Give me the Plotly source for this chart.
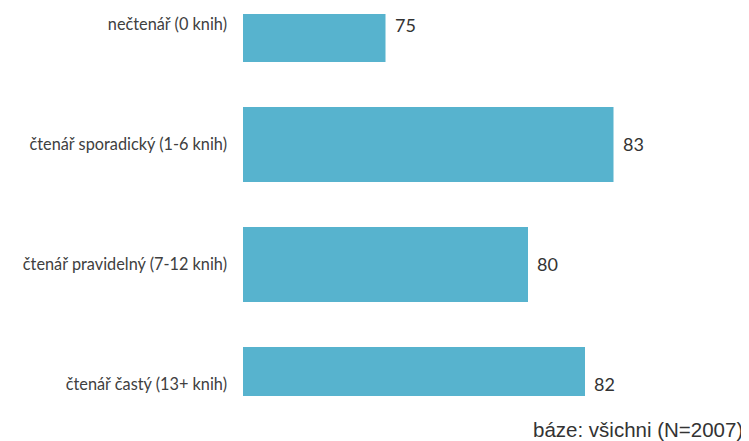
import plotly.graph_objects as go

categories = ["nečtenář (0 knih)", "čtenář sporadický (1-6 knih)",
              "čtenář pravidelný (7-12 knih)", "čtenář častý (13+ knih)"]
values = [75, 83, 80, 82]
footnote = "báze: všichni (N=2007)"

BAR_COLOR = "#57B3CE"
NARROW = "Liberation Sans Narrow, Lato, sans-serif"

fig = go.Figure()
fig.add_trace(go.Bar(
    x=values, y=categories, orientation="h",
    marker=dict(color=BAR_COLOR, line=dict(width=0)),
    width=0.625, hoverinfo="skip",
))

for c, v in zip(categories, values):
    fig.add_annotation(x=v, y=c, text=str(v), showarrow=False,
                       xanchor="left", yanchor="middle", xshift=7,
                       font=dict(family=NARROW, size=18, color="#333333"))

fig.add_annotation(xref="paper", yref="paper", x=1.1009, y=-0.087,
                   text=footnote, showarrow=False, xanchor="right", yanchor="middle",
                   font=dict(family="Liberation Sans, Arial, sans-serif", size=20.5, color="#333333"))

# page body has an 8px margin: figure is shrunk and offset to compensate
fig.update_layout(
    width=741, height=433,
    margin=dict(l=235, r=50, t=6, b=45, autoexpand=False),
    paper_bgcolor="white", plot_bgcolor="white",
    showlegend=False,
    xaxis=dict(range=[70, 86], visible=False, showgrid=False, zeroline=False, automargin=False),
    yaxis=dict(type="category", range=[3.096, -0.0875], showgrid=False, zeroline=False,
               showline=False, ticks="", ticklabelstandoff=15, automargin=False,
               tickfont=dict(family=NARROW, size=16.3, color="#404040")),
)

fig.write_html("out.html")
